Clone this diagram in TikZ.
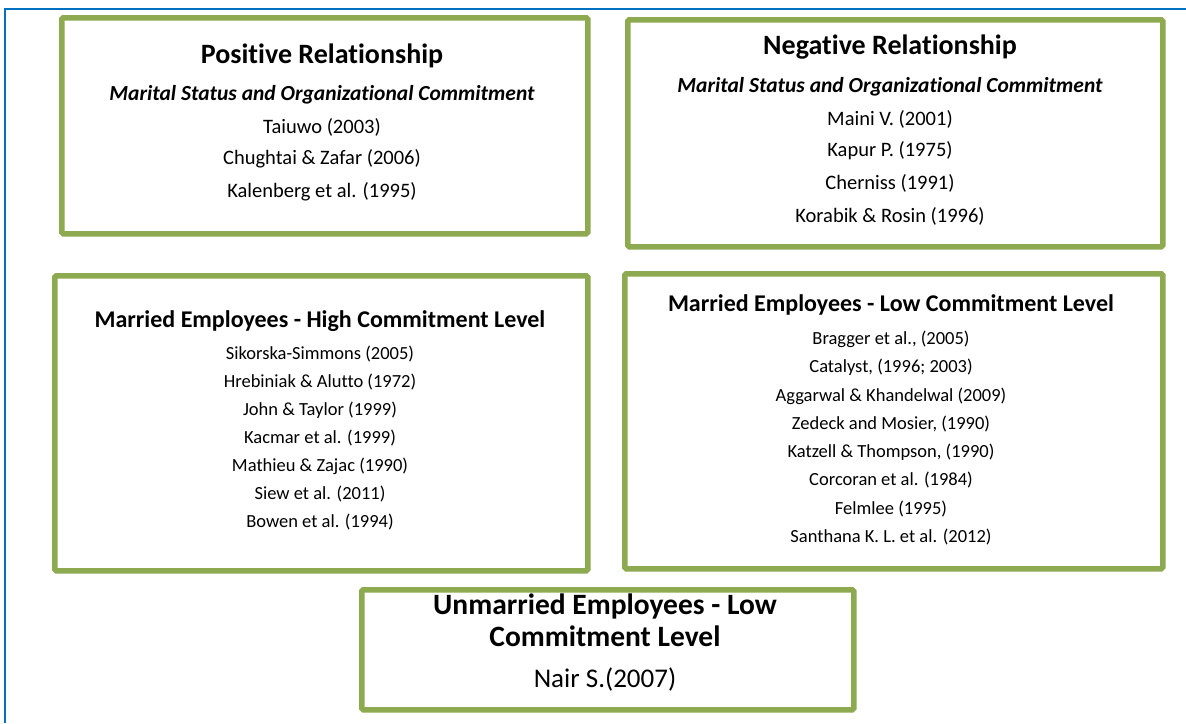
\documentclass[tikz,border=0pt]{standalone}
\usepackage{fontspec}
\setmainfont{Carlito}[Ligatures=NoCommon]
\definecolor{boxgreen}{RGB}{142,170,80}
\definecolor{frameblue}{RGB}{0,112,192}
\begin{document}
\begin{tikzpicture}[x=1pt,y=-1pt,
  gbox/.style={draw=boxgreen,line width=5.5pt,rounded corners=1.5pt,fill=white},
  ttl/.style={font=\bfseries\fontsize{28}{32}\selectfont,anchor=center},
  sub/.style={font=\bfseries\itshape\fontsize{21.5}{24}\selectfont,anchor=center},
  ref/.style={font=\fontsize{20.5}{24}\selectfont,anchor=center},
  ttlb/.style={font=\bfseries\fontsize{24}{27}\selectfont,anchor=center},
  refb/.style={font=\fontsize{18.5}{21}\selectfont,anchor=center},
  ttlc/.style={font=\bfseries\fontsize{29.5}{32}\selectfont,align=center,anchor=center},
  refc/.style={font=\fontsize{27}{30}\selectfont,anchor=center}]
\useasboundingbox (0,0) rectangle (1186,723);
\fill[white] (0,0) rectangle (1186,723);
% frame
\coordinate (fa) at (5,723);
\coordinate (fb) at (5,9);
\coordinate (fc) at (1186,9);
\draw[frameblue,line width=2pt] (fa) -- (fb) -- (fc);
% boxes
\node[gbox,minimum width=526pt,minimum height=216pt,anchor=north west] (pos) at (59,15) {};
\node[gbox,minimum width=535pt,minimum height=227pt,anchor=north west] (neg) at (625,17) {};
\node[gbox,minimum width=533pt,minimum height=295pt,anchor=north west] (mhi) at (52,273) {};
\node[gbox,minimum width=538pt,minimum height=295pt,anchor=north west] (mlo) at (622,271) {};
\node[gbox,minimum width=492pt,minimum height=120pt,anchor=north west] (unm) at (359,587) {};
% positive
\node[ttl] (p0) at (322,56) {Positive Relationship};
\node[sub] (p1) at (322,95) {Marital Status and Organizational Commitment};
\node[ref] (p2) at (322,127) {Taiuwo (2003)};
\node[ref] (p3) at (322,159) {Chughtai \& Zafar (2006)};
\node[ref] (p4) at (322,192) {Kalenberg et al. (1995)};
% negative
\node[ttl] (n0) at (890,47) {Negative Relationship};
\node[sub] (n1) at (890,87) {Marital Status and Organizational Commitment};
\node[ref] (n2) at (890,119) {Maini V. (2001)};
\node[ref] (n3) at (890,151) {Kapur P. (1975)};
\node[ref] (n4) at (890,183) {Cherniss (1991)};
\node[ref] (n5) at (890,216) {Korabik \& Rosin (1996)};
% married high
\node[ttlb] (h0) at (320,321) {Married Employees - High Commitment Level};
\node[refb] (h1) at (320,354) {Sikorska-Simmons (2005)};
\node[refb] (h2) at (320,382) {Hrebiniak \& Alutto (1972)};
\node[refb] (h3) at (320,410) {John \& Taylor (1999)};
\node[refb] (h4) at (320,438) {Kacmar et al. (1999)};
\node[refb] (h5) at (320,466) {Mathieu \& Zajac (1990)};
\node[refb] (h6) at (320,494) {Siew et al. (2011)};
\node[refb] (h7) at (320,522) {Bowen et al. (1994)};
% married low
\node[ttlb] (l0) at (891,305) {Married Employees - Low Commitment Level};
\node[refb] (l1) at (891,339) {Bragger et al., (2005)};
\node[refb] (l2) at (891,367) {Catalyst, (1996; 2003)};
\node[refb] (l3) at (891,396) {Aggarwal \& Khandelwal (2009)};
\node[refb] (l4) at (891,424) {Zedeck and Mosier, (1990)};
\node[refb] (l5) at (891,452) {Katzell \& Thompson, (1990)};
\node[refb] (l6) at (891,480) {Corcoran et al. (1984)};
\node[refb] (l7) at (891,509) {Felmlee (1995)};
\node[refb] (l8) at (891,537) {Santhana K. L. et al. (2012)};
% unmarried
\node[ttlc] (u0) at (605,620) {Unmarried Employees - Low\\Commitment Level};
\node[refc] (u1) at (605,679) {Nair S.(2007)};
\end{tikzpicture}
\end{document}
